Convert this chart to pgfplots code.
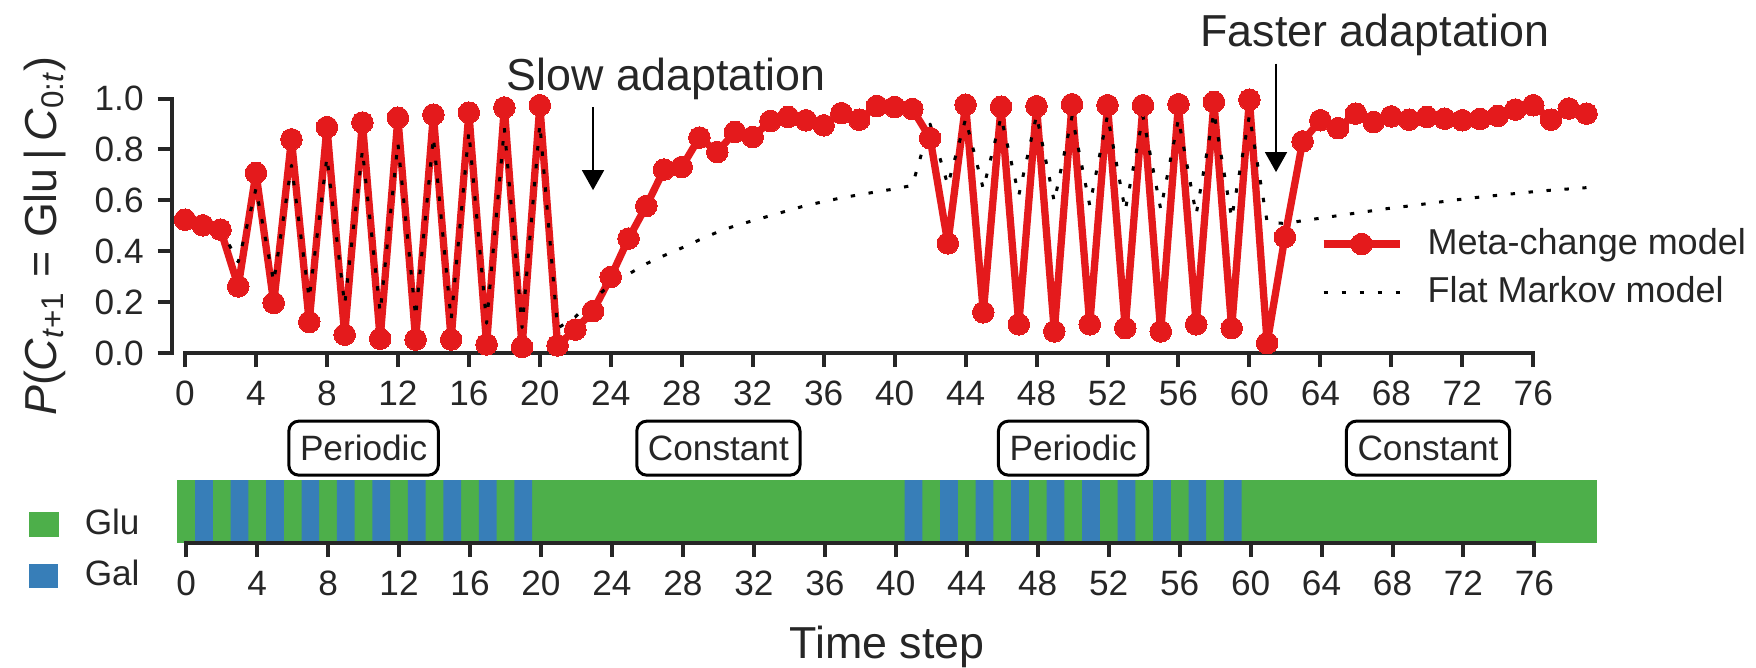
\documentclass[border=0pt]{standalone}
\usepackage{fontspec}
\setmainfont{Liberation Sans}
\usepackage{pgfplots}
\pgfplotsset{compat=1.18}
\usetikzlibrary{arrows.meta}
\definecolor{metared}{HTML}{E41A1C}
\definecolor{glu}{HTML}{4DAF4A}
\definecolor{gal}{HTML}{377EB8}
\definecolor{txt}{HTML}{262626}
\newcommand{\tickfont}{\fontsize{8.8}{10.5}\selectfont}
\newcommand{\labfont}{\fontsize{11.2}{13.4}\selectfont}
\pgfplotsset{
  metaleg/.style={legend image code/.code={\draw[mark repeat=2,mark phase=2,##1] plot coordinates {(0pt,0pt) (9.5pt,0pt) (19pt,0pt)};}},
  flatleg/.style={legend image code/.code={\draw[##1] (0pt,0pt) -- (19pt,0pt);}},
  gluleg/.style={legend image code/.code={\fill[glu] (0pt,-3.05pt) rectangle (7.25pt,3.05pt);}},
  galleg/.style={legend image code/.code={\fill[gal] (0pt,-3.05pt) rectangle (7.25pt,3.05pt);}},
}
\begin{document}
\begin{tikzpicture}
\path[use as bounding box] (0,0) rectangle (439pt,-166.75pt);
% ---------------- top axis ----------------
\begin{axis}[
  at={(42.93pt,-88.25pt)}, anchor=south west,
  x=4.435pt, y=63.6pt,
  xmin=-0.75, xmax=79.5, ymin=0, ymax=1,
  clip=false,
  axis x line*=bottom, axis y line*=left,
  axis line style={draw=none},
  tick align=outside, major tick length=3.5pt,
  tick style={line width=1pt, color=txt},
  xtick={0,4,...,76}, ytick={0,0.2,0.4,0.6,0.8,1},
  /pgf/number format/assume math mode=true,
  yticklabel style={/pgf/number format/fixed,/pgf/number format/fixed zerofill,/pgf/number format/precision=1},
  ticklabel style={font=\tickfont, text=txt},
  ylabel={\textit{P}(\textit{C}\textsubscript{\textit{t}+1}\hspace{0.3em}=\hspace{0.3em}Glu\,|\,\textit{C}\textsubscript{0:\textit{t}})},
  ylabel style={font=\labfont, text=txt, at={(axis description cs:-0.089,0.46)}, anchor=center},
  legend style={at={(axis description cs:0.806,0.334)}, anchor=west, draw=none, fill=none, inner sep=0pt,
    nodes={inner sep=0pt, text=txt, font=\fontsize{9}{10.8}\selectfont}, row sep=4pt, column sep=6.1pt},
  legend cell align=left,
]
\draw[txt, line width=1pt, line cap=rect] (axis cs:0,0) -- (axis cs:76,0);
\draw[txt, line width=1pt, line cap=rect] (axis cs:-0.75,0) -- (axis cs:-0.75,1);
\addplot[metared, line width=1.83pt, line join=round, mark=*, mark size=2.7pt, mark options={fill=metared, draw=metared, line width=0pt}, metaleg]
coordinates {
(0,0.524) (1,0.502) (2,0.485) (3,0.262) (4,0.708) (5,0.197) (6,0.840) (7,0.122) (8,0.888) (9,0.072)
(10,0.906) (11,0.056) (12,0.925) (13,0.053) (14,0.937) (15,0.053) (16,0.945) (17,0.034) (18,0.965) (19,0.024)
(20,0.974) (21,0.030) (22,0.092) (23,0.165) (24,0.299) (25,0.450) (26,0.578) (27,0.721) (28,0.731) (29,0.847)
(30,0.790) (31,0.869) (32,0.849) (33,0.912) (34,0.928) (35,0.915) (36,0.895) (37,0.943) (38,0.917) (39,0.971)
(40,0.967) (41,0.959) (42,0.845) (43,0.431) (44,0.976) (45,0.160) (46,0.968) (47,0.113) (48,0.970) (49,0.085)
(50,0.978) (51,0.113) (52,0.974) (53,0.098) (54,0.974) (55,0.085) (56,0.978) (57,0.113) (58,0.987) (59,0.098)
(60,0.996) (61,0.039) (62,0.456) (63,0.832) (64,0.915) (65,0.884) (66,0.941) (67,0.908) (68,0.930) (69,0.917)
(70,0.928) (71,0.921) (72,0.915) (73,0.920) (74,0.932) (75,0.957) (76,0.974) (77,0.917) (78,0.961) (79,0.941)
};
\addlegendentry{Meta-change model}
\addplot[black, line width=0.75pt, line join=round, dash pattern=on 1.1pt off 3.4pt, flatleg]
coordinates {
(0,0.50) (1,0.50) (2,0.49) (3,0.358) (4,0.646) (5,0.279) (6,0.738) (7,0.214) (8,0.770) (9,0.19)
(10,0.797) (11,0.16) (12,0.825) (13,0.142) (14,0.85) (15,0.13) (16,0.87) (17,0.117) (18,0.885) (19,0.10)
(20,0.90) (21,0.097) (22,0.142) (23,0.21) (24,0.27) (25,0.31) (26,0.351) (27,0.383) (28,0.413) (29,0.445)
(30,0.475) (31,0.50) (32,0.52) (33,0.54) (34,0.56) (35,0.58) (36,0.595) (37,0.61) (38,0.622) (39,0.634)
(40,0.645) (41,0.659) (42,0.90) (43,0.66) (44,0.92) (45,0.645) (46,0.928) (47,0.62) (48,0.934) (49,0.595)
(50,0.93) (51,0.58) (52,0.934) (53,0.56) (54,0.93) (55,0.565) (56,0.92) (57,0.545) (58,0.947) (59,0.53)
(60,0.934) (61,0.515) (62,0.509) (63,0.52) (64,0.53) (65,0.54) (66,0.55) (67,0.56) (68,0.57) (69,0.578)
(70,0.587) (71,0.596) (72,0.605) (73,0.613) (74,0.62) (75,0.627) (76,0.634) (77,0.64) (78,0.645) (79,0.65)
};
\addlegendentry{Flat Markov model}
\node[anchor=base west, inner sep=0pt, font=\labfont, text=txt] at (axis cs:18.1,1.03) {Slow adaptation};
\node[anchor=base west, inner sep=0pt, font=\labfont, text=txt] at (axis cs:57.2,1.203) {Faster adaptation};
\draw[black, line width=0.7pt, -{Triangle[width=5.4pt,length=5pt]}] (axis cs:23,0.967) -- (axis cs:23,0.64);
\draw[black, line width=0.7pt, -{Triangle[width=5.4pt,length=5pt]}] (axis cs:61.5,1.138) -- (axis cs:61.5,0.711);
\end{axis}
% ---------------- bottom axis ----------------
\begin{axis}[
  at={(44.33pt,-135.7pt)}, anchor=south west,
  x=4.435pt, y=15.675pt,
  xmin=-0.5, xmax=79.5, ymin=0, ymax=1,
  clip=false,
  axis x line*=bottom, axis y line=none,
  axis line style={draw=none},
  tick align=outside, major tick length=3.5pt,
  tick style={line width=1pt, color=txt},
  xtick={0,4,...,76}, ytick=\empty,
  /pgf/number format/assume math mode=true,
  ticklabel style={font=\tickfont, text=txt},
  xlabel={Time step},
  xlabel style={font=\labfont, text=txt, at={(axis description cs:0.5,0)}, anchor=center, yshift=-26.1pt},
  legend style={at={(axis description cs:-0.1051,-0.116)}, anchor=west, draw=none, fill=none, inner sep=0pt,
    nodes={inner sep=0pt, text=txt, font=\tickfont}, row sep=5pt, column sep=6.5pt},
  legend cell align=left,
]
\addplot[ybar, bar width=4.435pt, bar shift=0pt, fill=glu, draw=glu, line width=0.2pt, gluleg]
coordinates {
(0,1) (2,1) (4,1) (6,1) (8,1) (10,1) (12,1) (14,1) (16,1) (18,1)
(20,1) (21,1) (22,1) (23,1) (24,1) (25,1) (26,1) (27,1) (28,1) (29,1) (30,1)
(31,1) (32,1) (33,1) (34,1) (35,1) (36,1) (37,1) (38,1) (39,1) (40,1)
(42,1) (44,1) (46,1) (48,1) (50,1) (52,1) (54,1) (56,1) (58,1)
(60,1) (61,1) (62,1) (63,1) (64,1) (65,1) (66,1) (67,1) (68,1) (69,1) (70,1)
(71,1) (72,1) (73,1) (74,1) (75,1) (76,1) (77,1) (78,1) (79,1)
};
\addlegendentry{Glu}
\addplot[ybar, bar width=4.435pt, bar shift=0pt, fill=gal, draw=none, galleg]
coordinates {
(1,1) (3,1) (5,1) (7,1) (9,1) (11,1) (13,1) (15,1) (17,1) (19,1)
(41,1) (43,1) (45,1) (47,1) (49,1) (51,1) (53,1) (55,1) (57,1) (59,1)
};
\addlegendentry{Gal}
\draw[txt, line width=1pt, line cap=rect] (axis cs:0,0) -- (axis cs:76,0);
\node[draw=black, line width=0.75pt, rounded corners=2.5pt, fill=white, font=\tickfont, text=txt, inner xsep=2.8pt, minimum height=13.5pt] at (axis cs:10,1.51) {Periodic};
\node[draw=black, line width=0.75pt, rounded corners=2.5pt, fill=white, font=\tickfont, text=txt, inner xsep=2.8pt, minimum height=13.5pt] at (axis cs:30,1.51) {Constant};
\node[draw=black, line width=0.75pt, rounded corners=2.5pt, fill=white, font=\tickfont, text=txt, inner xsep=2.8pt, minimum height=13.5pt] at (axis cs:50,1.51) {Periodic};
\node[draw=black, line width=0.75pt, rounded corners=2.5pt, fill=white, font=\tickfont, text=txt, inner xsep=2.8pt, minimum height=13.5pt] at (axis cs:70,1.51) {Constant};
\end{axis}
\end{tikzpicture}
\end{document}
